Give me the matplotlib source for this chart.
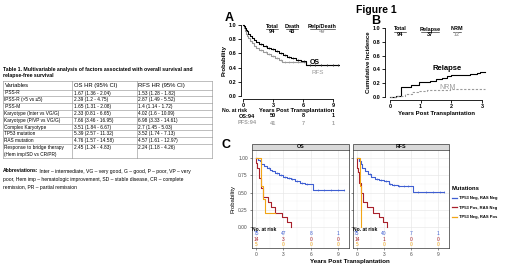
import numpy as np
import matplotlib
matplotlib.use("Agg")
import matplotlib.pyplot as plt
from matplotlib.patches import Rectangle
from matplotlib.lines import Line2D

plt.rcParams['font.family'] = ['Liberation Sans', 'DejaVu Sans']

W, H = 520, 269

# Table 1 values
variables = ["IPSS-R", "IPSS-R (>5 vs \u22645)", "IPSS-M",
             "Karyotype (Inter vs VG/G)", "Karyotype (P/VP vs VG/G)",
             "Complex Karyotype", "TP53 mutation", "RAS mutation",
             "Response to bridge therapy\n(Hem imp/SD vs CR/PR)"]
os_hr = ["1.67 (1.36 - 2.04)", "2.39 (1.2 - 4.75)", "1.65 (1.31 - 2.08)",
         "2.33 (0.81 - 6.65)", "7.66 (3.46 - 16.95)", "3.51 (1.84 - 6.67)",
         "5.39 (2.57 - 11.32)", "4.76 (1.57 - 14.58)", "2.45 (1.24 - 4.83)"]
rfs_hr = ["1.53 (1.28 - 1.82)", "2.87 (1.49 - 5.52)", "1.4 (1.14 - 1.72)",
          "4.02 (1.6 - 10.09)", "6.98 (3.33 - 14.61)", "2.7 (1.45 - 5.03)",
          "3.52 (1.74 - 7.13)", "4.57 (1.61 - 12.97)", "2.24 (1.18 - 4.26)"]
abbrev_lines = ["Inter \u2013 intermediate, VG \u2013 very good, G \u2013 good, P \u2013 poor, VP \u2013 very",
                "poor, Hem imp \u2013 hematologic improvement, SD \u2013 stable disease, CR \u2013 complete",
                "remission, PR \u2013 partial remission"]

# Panel A: overall survival and relapse-free survival
a_os_t = [0, 0.1, 0.2, 0.3, 0.4, 0.5, 0.7, 0.9, 1.1, 1.3, 1.6, 2.0, 2.4,
          2.8, 3.2, 3.6, 4.0, 4.4, 4.8, 5.3, 5.8, 6.3, 9.6]
a_os_s = [1.0, 0.98, 0.96, 0.93, 0.91, 0.88, 0.85, 0.82, 0.79, 0.76, 0.73,
          0.70, 0.68, 0.66, 0.63, 0.61, 0.58, 0.55, 0.53, 0.51, 0.49, 0.44, 0.44]
a_rfs_t = [0, 0.1, 0.2, 0.3, 0.4, 0.5, 0.7, 0.9, 1.1, 1.3, 1.6, 2.0, 2.4,
           2.8, 3.2, 3.6, 3.9, 6.3, 9.6]
a_rfs_s = [1.0, 0.96, 0.92, 0.88, 0.85, 0.82, 0.78, 0.74, 0.71, 0.68, 0.65,
           0.62, 0.59, 0.56, 0.53, 0.51, 0.48, 0.43, 0.43]
a_cens = [1.8, 2.3, 2.6, 3.0, 3.4, 3.8, 4.2, 4.6, 5.0, 5.5, 6.1, 6.7,
          7.2, 7.8, 8.4, 9.0, 9.5]
a_risk_times = [3, 6, 9]
a_risk_os = [50, 8, 1]
a_risk_rfs = [41, 7, 1]

# Panel B: cumulative incidence
b_rel_t = [0, 0.2, 0.35, 0.7, 0.95, 1.3, 1.5, 1.7, 1.85, 2.0, 2.6, 2.85, 2.95, 3.1]
b_rel_s = [0, 0.02, 0.15, 0.17, 0.22, 0.24, 0.26, 0.28, 0.30, 0.32, 0.33,
           0.35, 0.37, 0.37]
b_nrm_t = [0, 0.2, 0.5, 0.72, 0.9, 1.2, 1.6, 1.97, 3.1]
b_nrm_s = [0, 0.02, 0.04, 0.07, 0.09, 0.10, 0.11, 0.12, 0.12]

# Panel C: by mutation group
groups = ["TP53 Neg, RAS Neg", "TP53 Pos, RAS Neg", "TP53 Neg, RAS Pos"]
group_colors = ["#3F5FD2", "#A8202A", "#F2A516"]
c_os_t = [[0, 0.2, 0.4, 0.6, 0.9, 1.2, 1.5, 1.8, 2.1, 2.5, 3.0, 3.4, 3.8,
           4.3, 4.8, 5.4, 6.3, 9.7],
          [0, 0.05, 0.15, 0.3, 0.5, 0.8, 1.3, 1.6, 2.1, 2.8, 3.4, 3.8],
          [0, 0.5, 0.6, 0.8, 1.0, 2.1]]
c_os_s = [[1.0, 0.97, 0.95, 0.92, 0.89, 0.86, 0.83, 0.81, 0.78, 0.76, 0.73,
           0.71, 0.69, 0.66, 0.64, 0.62, 0.54, 0.54],
          [1.0, 0.93, 0.86, 0.71, 0.57, 0.43, 0.36, 0.29, 0.21, 0.14, 0.07, 0.0],
          [1.0, 0.8, 0.6, 0.4, 0.2, 0.2]]
c_rfs_t = [[0, 0.2, 0.4, 0.6, 0.9, 1.2, 1.6, 2.0, 2.4, 3.0, 3.5, 3.9, 4.5,
            6.2, 9.7],
           [0, 0.05, 0.15, 0.25, 0.5, 0.7, 1.1, 1.8, 2.4, 2.9, 3.3],
           [0, 0.3, 0.35, 0.4, 0.45, 0.5]]
c_rfs_s = [[1.0, 0.95, 0.91, 0.86, 0.81, 0.77, 0.73, 0.70, 0.68, 0.66, 0.63,
            0.61, 0.60, 0.51, 0.51],
           [1.0, 0.86, 0.79, 0.64, 0.50, 0.36, 0.29, 0.21, 0.14, 0.07, 0.0],
           [1.0, 0.8, 0.6, 0.4, 0.2, 0.0]]
c_os_cens = [1.4, 2.3, 2.7, 3.2, 3.6, 4.0, 4.5, 5.0, 5.6, 6.8, 7.5, 8.2, 9.0, 9.6]
c_rfs_cens = [1.4, 2.2, 2.7, 3.2, 3.7, 4.1, 4.7, 5.2, 5.7, 6.8, 7.6, 8.4, 9.2, 9.6]
c_risk_times = [0, 3, 6, 9]
c_os_risk = [[75, 47, 8, 1], [14, 3, 0, 0], [5, 0, 0, 0]]
c_rfs_risk = [[75, 40, 7, 1], [14, 1, 0, 0], [5, 0, 0, 0]]


def px_box(l, t, r, b):
    return [l / W, 1 - b / H, (r - l) / W, (b - t) / H]


def step_at(t, s, x):
    idx = np.searchsorted(t, x, side='right') - 1
    return np.asarray(s)[idx]


def draw_table(page):
    page.text(3, 69, "Table 1. Multivariable analysis of factors associated with overall survival and",
              fontsize=3.7, fontweight='bold', va='center')
    page.text(3, 76, "relapse-free survival", fontsize=3.7, fontweight='bold', va='center')
    cols = [3, 72, 137, 212]
    top, head = 81, 89.5
    row_h = 6.8
    tops = [head + i * row_h for i in range(len(variables))]
    bottom = tops[-1] + 2 * row_h
    lc = '#8c8c8c'
    for y in [top, head] + tops[1:] + [bottom]:
        page.plot([cols[0], cols[-1]], [y, y], color=lc, lw=0.4)
    for x in cols:
        page.plot([x, x], [top, bottom], color=lc, lw=0.4)
    for x, h in zip(cols[:3], ["Variables", "OS HR (95% CI)", "RFS HR (95% CI)"]):
        page.text(x + 1.5, (top + head) / 2, h, fontsize=4.2, va='center')
    for y, v, o, r in zip(tops, variables, os_hr, rfs_hr):
        for x, s in zip(cols[:3], [v, o, r]):
            page.text(x + 1.5, y + 1.0, s, fontsize=3.4, va='top', linespacing=1.5)
    bold = page.text(3, 171, "Abbreviations:", fontsize=3.6, fontweight='bold', va='center')
    page.annotate(" " + abbrev_lines[0], xy=(1, 0.5), xycoords=bold, fontsize=3.6,
                  va='center', ha='left')
    page.text(3, 179, abbrev_lines[1], fontsize=3.6, va='center')
    page.text(3, 187, abbrev_lines[2], fontsize=3.6, va='center')


def base_axes(ax, xmax_tick, ticks):
    for s in ['top', 'right']:
        ax.spines[s].set_visible(False)
    ax.spines['left'].set_bounds(0, 1)
    ax.spines['bottom'].set_bounds(0, xmax_tick)
    for s in ['left', 'bottom']:
        ax.spines[s].set_linewidth(0.6)
    ax.set_xticks(ticks)
    ax.set_yticks([0, 0.2, 0.4, 0.6, 0.8, 1.0])
    ax.set_yticklabels(['0.0', '0.2', '0.4', '0.6', '0.8', '1.0'])
    ax.tick_params(length=2, width=0.6, pad=1.2, labelsize=4)
    for lab in ax.get_xticklabels() + ax.get_yticklabels():
        lab.set_fontweight('bold')
    ax.patch.set_alpha(0)


def draw_panel_a(fig, page):
    ax = fig.add_axes(px_box(241, 22, 340, 99))
    ax.step(a_rfs_t, a_rfs_s, where='post', color='#9a9a9a', lw=0.8)
    ax.step(a_os_t, a_os_s, where='post', color='black', lw=0.8)
    ax.plot(a_cens, step_at(a_rfs_t, a_rfs_s, a_cens), '|', color='#9a9a9a', ms=1.8, mew=0.4)
    ax.plot(a_cens, step_at(a_os_t, a_os_s, a_cens), '|', color='black', ms=1.8, mew=0.4)
    ax.set_xlim(-0.2, 9.7)
    ax.set_ylim(-0.042, 1.042)
    base_axes(ax, 9, [0, 3, 6, 9])
    ax.text(6.7, 0.47, "OS", fontsize=5, fontweight='bold', va='center')
    ax.text(6.8, 0.33, "RFS", fontsize=4.5, color='#9a9a9a', va='center')
    for t, o, r in zip(a_risk_times, a_risk_os, a_risk_rfs):
        ax.text(t, -0.28, str(o), fontsize=4, fontweight='bold', ha='center', va='center', clip_on=False)
        ax.text(t, -0.38, str(r), fontsize=4, fontweight='bold', ha='center', va='center',
                color='#a0a0a0', clip_on=False)
    page.text(222, 110.5, "No. at risk", fontsize=3.7, fontweight='bold', va='center')
    page.text(247, 116, "OS:94", fontsize=4, fontweight='bold', ha='center', va='center')
    page.text(247, 123, "PFS:94", fontsize=4, fontweight='bold', ha='center', va='center', color='#a0a0a0')
    page.text(297, 110.5, "Years Post Transplantation", fontsize=4.2, fontweight='bold', ha='center', va='center')
    page.text(224, 60, "Probability", fontsize=4.3, fontweight='bold', rotation=90, ha='center', va='center')
    for x, head, val, col in [(272, "Total", "94", 'black'), (292, "Death", "43", 'black'),
                              (322, "Relp/Death", "49", '#a0a0a0')]:
        page.text(x, 26.5, head, fontsize=4, fontweight='bold', ha='center', va='center')
        page.text(x, 31.5, val, fontsize=4, fontweight='bold', ha='center', va='center', color=col)
        hw = len(head) * 1.25
        page.plot([x - hw, x + hw], [29, 29], color='black', lw=0.4)


def draw_panel_b(fig, page):
    ax = fig.add_axes(px_box(385, 24, 490, 100))
    ax.step(b_rel_t, b_rel_s, where='post', color='black', lw=0.8)
    ax.step(b_nrm_t, b_nrm_s, where='post', color='#9a9a9a', lw=0.8, ls=(0, (2, 1.5)))
    ax.set_xlim(-0.16, 3.26)
    ax.set_ylim(-0.04, 1.056)
    base_axes(ax, 3, [0, 1, 2, 3])
    ax.text(1.4, 0.42, "Relapse", fontsize=5.5, fontweight='bold', va='center')
    ax.text(1.6, 0.14, "NRM", fontsize=5, color='#9a9a9a', va='center')
    page.text(436, 114, "Years Post Transplantation", fontsize=4.3, fontweight='bold', ha='center', va='center')
    page.text(368, 62, "Cumulative Incidence", fontsize=4.3, fontweight='bold', rotation=90,
              ha='center', va='center')
    for x, head, val, col in [(400, "Total", "94", 'black'), (430, "Relapse", "37", 'black'),
                              (457, "NRM", "12", '#a0a0a0')]:
        page.text(x, 29, head, fontsize=4, fontweight='bold', ha='center', va='center')
        page.text(x, 34.5, val, fontsize=4, fontweight='bold', ha='center', va='center', color=col)
        hw = len(head) * 1.25
        page.plot([x - hw, x + hw], [31.5, 31.5], color='black', lw=0.4)


def draw_panel_c(fig, page):
    boxes = [(252, 349), (353, 449)]
    titles = ["OS", "RFS"]
    curves = [(c_os_t, c_os_s, c_os_cens, c_os_risk), (c_rfs_t, c_rfs_s, c_rfs_cens, c_rfs_risk)]
    for (l, r), title, (ts, ss, cens, risk) in zip(boxes, titles, curves):
        ax = fig.add_axes(px_box(l, 150, r, 248))
        ax.set_xlim(-0.44, 10.2)
        ax.set_ylim(-0.304, 1.116)
        ax.set_xticks([0, 3, 6, 9])
        ax.set_xticks([1.5, 4.5, 7.5], minor=True)
        ax.set_yticks([0, 0.25, 0.5, 0.75, 1.0])
        ax.set_yticks([0.125, 0.375, 0.625, 0.875], minor=True)
        ax.grid(which='major', color='#e6e6e6', lw=0.45)
        ax.grid(which='minor', color='#f2f2f2', lw=0.3)
        ax.set_axisbelow(True)
        for s in ax.spines.values():
            s.set_color('#333333')
            s.set_linewidth(0.5)
        ax.tick_params(which='both', length=1.5, width=0.4, color='#333333', pad=1.5,
                       labelsize=3.5, labelcolor='#4d4d4d')
        ax.tick_params(which='minor', length=0)
        if l == 252:
            ax.set_yticklabels(['0.00', '0.25', '0.50', '0.75', '1.00'])
        else:
            ax.set_yticklabels([])
        for t, s, c in zip(ts, ss, group_colors):
            ax.step(t, s, where='post', color=c, lw=0.8)
        ax.plot(cens, step_at(ts[0], ss[0], cens), '|', color=group_colors[0], ms=1.5, mew=0.4)
        ax.text(-0.4, -0.03, "No. at risk", fontsize=3.6, fontweight='bold', va='center')
        for row, c, y in zip(risk, group_colors, [-0.10, -0.18, -0.26]):
            for t, n in zip(c_risk_times, row):
                ax.text(t, y, str(n), fontsize=3.5, color=c, ha='center', va='center')
        page.add_patch(Rectangle((l, 144), r - l, 6, facecolor='#d9d9d9', edgecolor='#333333', lw=0.5))
        page.text((l + r) / 2, 147, title, fontsize=3.8, fontweight='bold', ha='center', va='center')
    page.text(233, 199, "Probability", fontsize=4.3, rotation=90, ha='center', va='center')
    page.text(350, 261, "Years Post Transplantation", fontsize=4.5, fontweight='bold', ha='center', va='center')
    handles = [Line2D([0], [0], color=c, lw=0.9) for c in group_colors]
    leg = fig.legend(handles, groups, title="Mutations", loc='upper left',
                     bbox_to_anchor=(452 / W, 1 - 186 / H), frameon=False,
                     prop={'size': 3.0, 'weight': 'bold'}, title_fontproperties={'size': 4.2, 'weight': 'bold'},
                     handlelength=1.1, handletextpad=0.6, labelspacing=1.3, borderaxespad=0, borderpad=0)
    leg._legend_box.align = 'left'


def main():
    fig = plt.figure(figsize=(W / 100, H / 100), dpi=100)
    page = fig.add_axes([0, 0, 1, 1])
    page.set_xlim(0, W)
    page.set_ylim(H, 0)
    page.axis('off')
    page.text(376, 10, "Figure 1", fontsize=7.5, fontweight='bold', ha='center', va='center')
    page.text(229, 18, "A", fontsize=9, fontweight='bold', ha='center', va='center')
    page.text(376, 21, "B", fontsize=9, fontweight='bold', ha='center', va='center')
    page.text(226, 145, "C", fontsize=9, fontweight='bold', ha='center', va='center')
    draw_table(page)
    draw_panel_a(fig, page)
    draw_panel_b(fig, page)
    draw_panel_c(fig, page)
    fig.savefig("out.png", dpi=100)


if __name__ == '__main__':
    main()
